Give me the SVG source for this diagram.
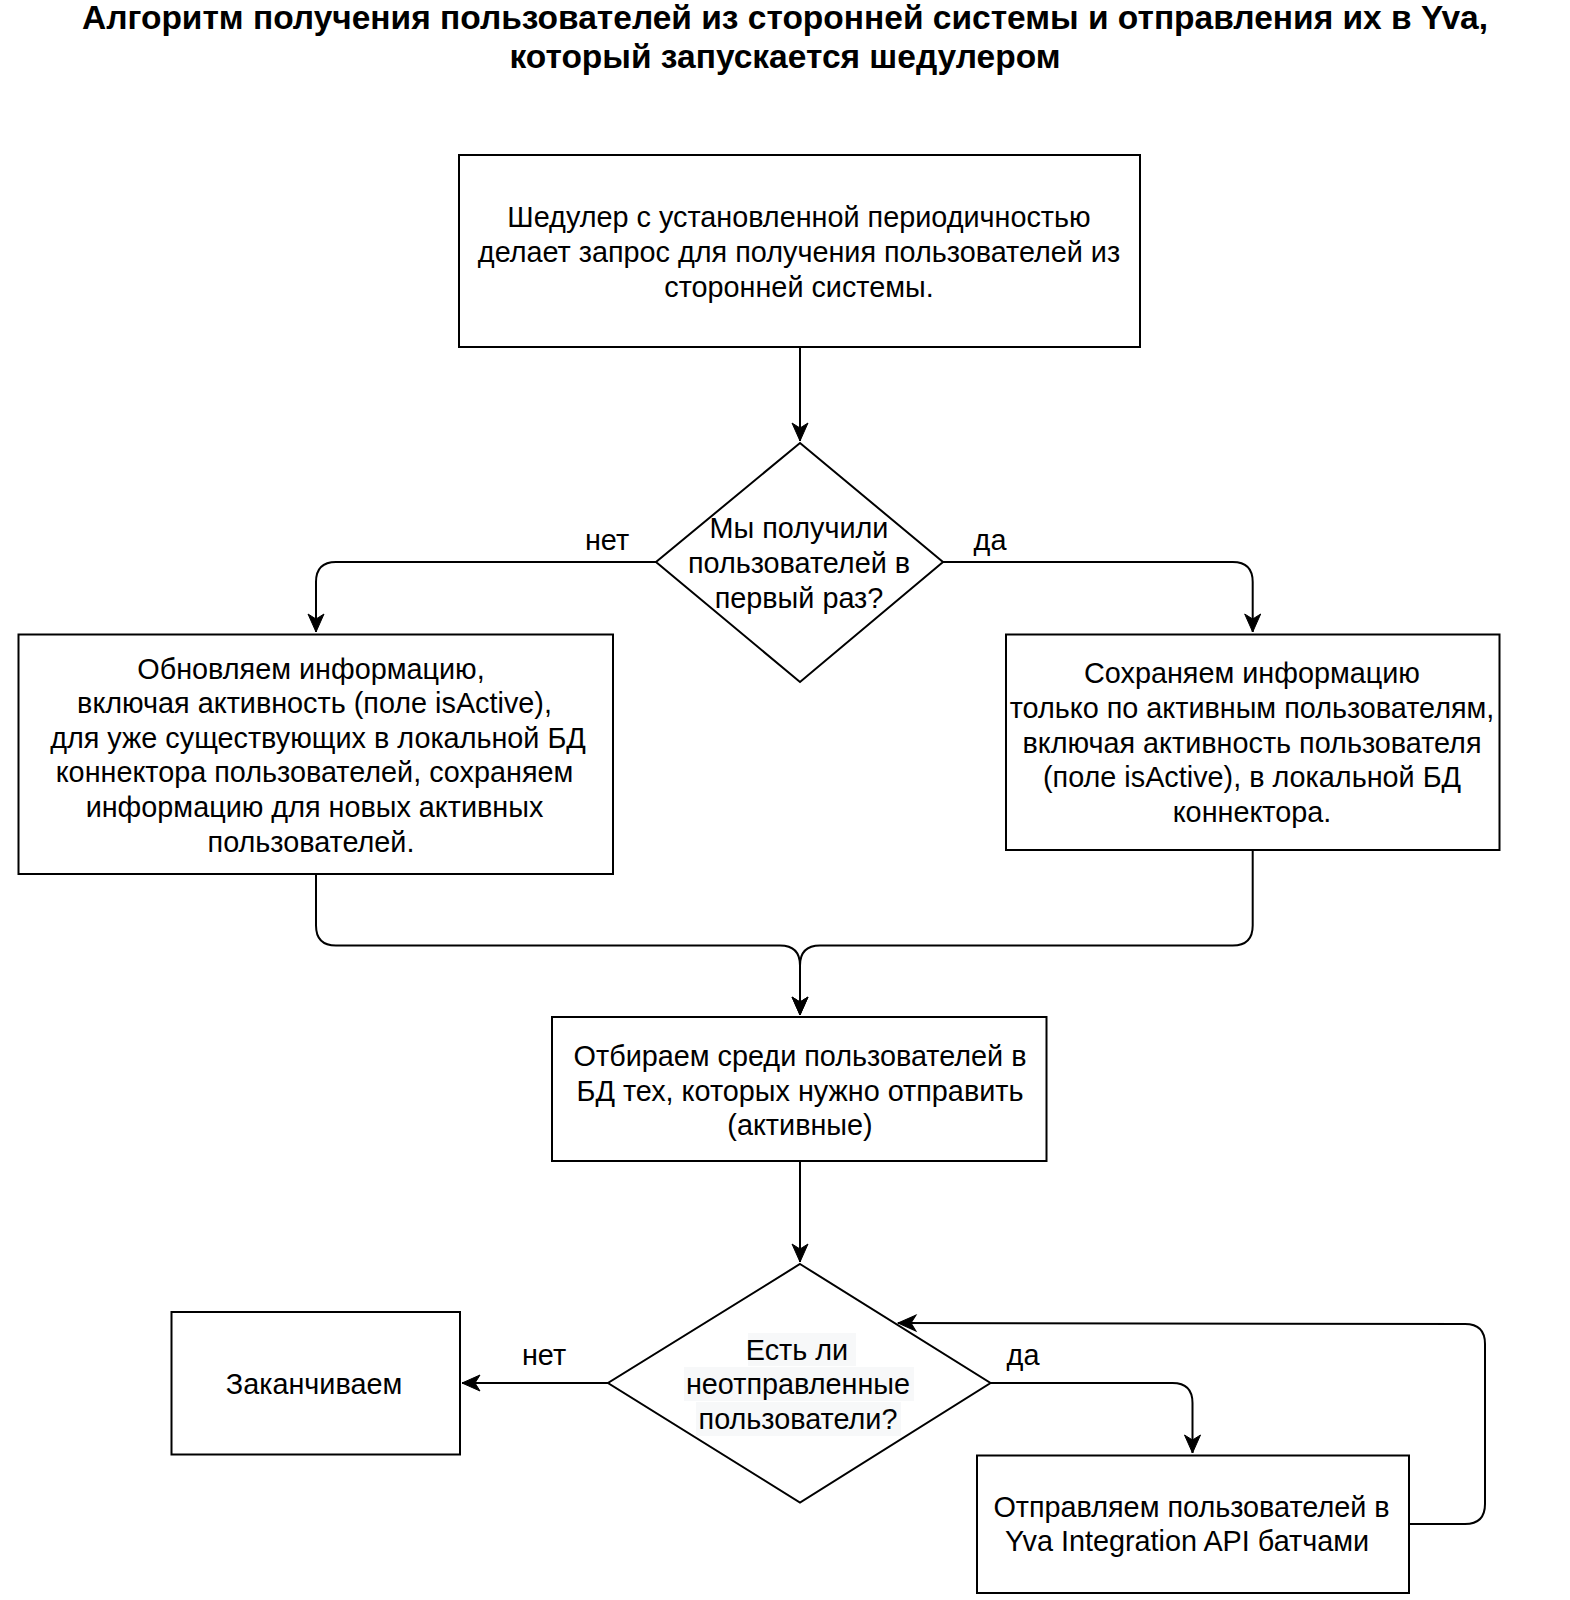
<svg xmlns="http://www.w3.org/2000/svg" width="1570" height="1600" viewBox="0 0 1570 1600">
<style>
.box{fill:#fff;stroke:#000;stroke-width:2}
.t{font-family:"Liberation Sans",Arial,sans-serif;font-size:28.8px;fill:#000;text-anchor:middle;dominant-baseline:central}
.title{font-family:"Liberation Sans",Arial,sans-serif;font-size:33.5px;font-weight:bold;fill:#000;text-anchor:middle;dominant-baseline:central}
.c{fill:none;stroke:#000;stroke-width:2}
.hl{fill:#f7f8f9}
</style>
<defs>
<marker id="arr" markerUnits="userSpaceOnUse" viewBox="-20 -10 22 20" refX="0" refY="0" markerWidth="22" markerHeight="20" orient="auto">
<path d="M0,0 L-18,-8 L-13,0 L-18,8 Z" fill="#000" stroke="#000" stroke-width="1"/>
</marker>
</defs>
<rect width="1570" height="1600" fill="#fff"/>
<g id="title">
<text class="title" x="785" y="17">Алгоритм получения пользователей из сторонней системы и отправления их в Yva,</text>
<text class="title" x="785" y="56">который запускается шедулером</text>
</g>
<g id="connectors">
<path class="c" d="M800,347 L800,441" marker-end="url(#arr)"/>
<path class="c" d="M656,562 L336,562 Q316,562 316,582 L316,632" marker-end="url(#arr)"/>
<path class="c" d="M943,562 L1232.7,562 Q1252.7,562 1252.7,582 L1252.7,632" marker-end="url(#arr)"/>
<path class="c" d="M316,874 L316,925.6 Q316,945.6 336,945.6 L780,945.6 Q800,945.6 800,965.6 L800,1015" marker-end="url(#arr)"/>
<path class="c" d="M1252.7,850 L1252.7,925.6 Q1252.7,945.6 1232.7,945.6 L820,945.6 Q800,945.6 800,965.6 L800,1015" marker-end="url(#arr)"/>
<path class="c" d="M800,1161 L800,1262" marker-end="url(#arr)"/>
<path class="c" d="M608,1383 L462,1383" marker-end="url(#arr)"/>
<path class="c" d="M990.5,1383 L1172.5,1383 Q1192.5,1383 1192.5,1403 L1192.5,1453" marker-end="url(#arr)"/>
<path class="c" d="M1409,1524 L1465,1524 Q1485,1524 1485,1504 L1485,1344 Q1485,1324 1465,1324 L898,1323" marker-end="url(#arr)"/>
<text class="t" x="607" y="540">нет</text>
<text class="t" x="990" y="540">да</text>
<text class="t" x="544" y="1355">нет</text>
<text class="t" x="1023" y="1355">да</text>
</g>
<g id="n_start">
<rect class="box" x="459" y="155" width="681" height="192"/>
<text class="t" x="799" y="217">Шедулер с установленной периодичностью</text>
<text class="t" x="799" y="252">делает запрос для получения пользователей из</text>
<text class="t" x="799" y="286.5">сторонней системы.</text>
</g>
<g id="n_dec1">
<polygon class="box" points="800,443 943,562 800,682 656,562"/>
<text class="t" x="799" y="528">Мы получили</text>
<text class="t" x="799" y="563">пользователей в</text>
<text class="t" x="799" y="598">первый раз?</text>
</g>
<g id="n_update">
<rect class="box" x="18.5" y="634.5" width="594.5" height="239.5"/>
<text class="t" x="311" y="668.5">Обновляем информацию,</text>
<text class="t" x="314.5" y="703">включая активность (поле isActive),</text>
<text class="t" x="318" y="737.5">для уже существующих в локальной БД</text>
<text class="t" x="314.5" y="772">коннектора пользователей, сохраняем</text>
<text class="t" x="314.5" y="807">информацию для новых активных</text>
<text class="t" x="311" y="841.5">пользователей.</text>
</g>
<g id="n_save">
<rect class="box" x="1006" y="634.5" width="493.5" height="215.5"/>
<text class="t" x="1252" y="673">Сохраняем информацию</text>
<text class="t" x="1252" y="708">только по активным пользователям,</text>
<text class="t" x="1252" y="742.5">включая активность пользователя</text>
<text class="t" x="1252" y="777">(поле isActive), в локальной БД</text>
<text class="t" x="1252" y="812">коннектора.</text>
</g>
<g id="n_select">
<rect class="box" x="552" y="1017" width="494.5" height="144"/>
<text class="t" x="800" y="1056">Отбираем среди пользователей в</text>
<text class="t" x="800" y="1090.5">БД тех, которых нужно отправить</text>
<text class="t" x="800" y="1125">(активные)</text>
</g>
<g id="n_dec2">
<polygon class="box" points="800,1264 990.5,1383 800,1502.5 608,1383"/>
<rect class="hl" x="748" y="1333" width="108" height="33"/>
<rect class="hl" x="684" y="1367" width="230" height="34"/>
<rect class="hl" x="696" y="1402" width="205" height="34"/>
<text class="t" x="797" y="1349.5">Есть ли</text>
<text class="t" x="798" y="1384">неотправленные</text>
<text class="t" x="798" y="1419">пользователи?</text>
</g>
<g id="n_end">
<rect class="box" x="171.5" y="1312" width="288.5" height="142.5"/>
<text class="t" x="314" y="1384">Заканчиваем</text>
</g>
<g id="n_send">
<rect class="box" x="977" y="1455.5" width="432" height="137.5"/>
<text class="t" x="1191.5" y="1506.5">Отправляем пользователей в</text>
<text class="t" x="1187" y="1541">Yva Integration API батчами</text>
</g>
</svg>
